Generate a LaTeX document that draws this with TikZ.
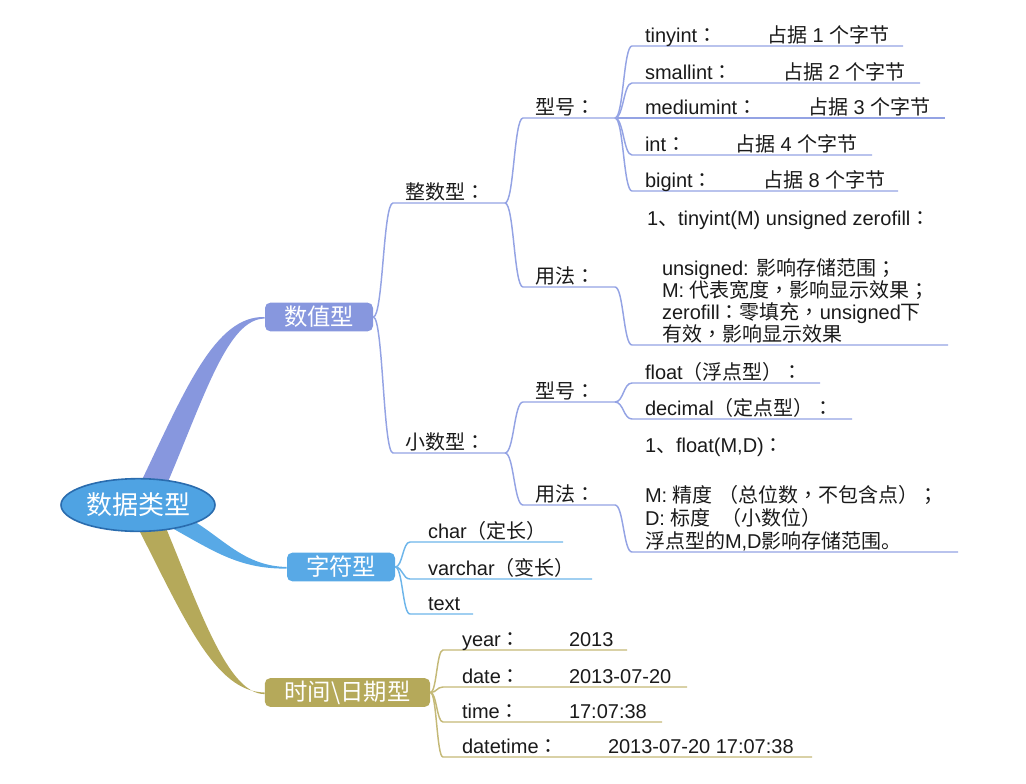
\documentclass[tikz,border=0pt]{standalone}
\usepackage{fontspec}
\setmainfont{Liberation Sans}
\newfontfamily\cjk{Noto Sans CJK SC}
\newfontfamily\cjkjp{Noto Sans CJK JP}
\newfontfamily\cjktc{Noto Sans CJK TC}
\usetikzlibrary{calc,backgrounds,shapes.geometric}
\newcommand\zh[1]{{\cjk #1}}
\newcommand\jp[1]{{\cjkjp #1}}
\newcommand\cm{{\cjktc ，}}
\newcommand\mmconn[4]{\draw[#1] let \p1=(#2),\p2=(#3) in (\p1) .. controls ({(\x1+\x2)/2},\y1) and ({(\x1+\x2)/2},\y2) .. (\p2) -- (#4);}
\definecolor{numc}{HTML}{8797DE}
\definecolor{numl}{HTML}{94A3E4}
\definecolor{chrc}{HTML}{58A9E6}
\definecolor{chrl}{HTML}{6DB5EA}
\definecolor{timc}{HTML}{B5A95A}
\definecolor{timl}{HTML}{C4B977}
\definecolor{rootc}{HTML}{4FA3E3}
\definecolor{rootb}{HTML}{2A6CAE}
\definecolor{txt}{HTML}{1A1A1A}
\begin{document}
\begin{tikzpicture}[x=0.75pt,y=-0.75pt,
 lbl/.style={anchor=base west,inner sep=0pt,outer sep=0pt,text=txt,font=\fontsize{15}{18}\selectfont},
 topbox/.style={rectangle,rounded corners=4pt,text=white,inner sep=0pt,minimum height=21.5pt,font=\fontsize{17.5}{20}\selectfont\cjk},
 nl/.style={draw=numl,line width=1.1pt},
 cl/.style={draw=chrl,line width=1.1pt},
 tl/.style={draw=timl,line width=1.1pt}]
\useasboundingbox (0,0) rectangle (1026,783);

% main nodes
\node[ellipse,fill=rootc,draw=rootb,line width=1.2pt,minimum width=115.5pt,minimum height=39.5pt,inner sep=0pt,text=white,font=\fontsize{19.5}{22}\selectfont\cjk] (root) at (138,505) {数据类型};
\node[topbox,fill=numc,minimum width=81pt] (num) at (319,317) {数值型};
\node[topbox,fill=chrc,minimum width=81pt] (chr) at (341,567) {字符型};
\node[topbox,fill=timc,minimum width=124pt] (tim) at (347.5,692.5) {时间\textbackslash 日期型};

% tapered main branches
\begin{scope}[on background layer]
\coordinate (b1a) at (140,484); \coordinate (b1b) at (167,484);
\fill[numc] (b1a) .. controls (185,390) and (215,315.5) .. (num.west) -- ([yshift=-1.2pt]num.west) .. controls (228,318.5) and (205,395) .. (b1b) -- cycle;
\coordinate (b2a) at (192,520); \coordinate (b2b) at (172,528);
\fill[chrc] (b2a) .. controls (225,540) and (245,566) .. (chr.west) -- ([yshift=-1.2pt]chr.west) .. controls (240,569) and (215,552) .. (b2b) -- cycle;
\coordinate (b3a) at (138,528); \coordinate (b3b) at (166,528);
\fill[timc] (b3a) .. controls (185,620) and (215,691.5) .. (tim.west) -- ([yshift=-1.2pt]tim.west) .. controls (228,694) and (200,610) .. (b3b) -- cycle;
\end{scope}

% ---------- numeric subtree ----------
\coordinate (zs) at (393,203); \coordinate (ze) at (505,203);
\coordinate (xs) at (393,453); \coordinate (xe) at (505,453);
\mmconn{nl}{num.east}{zs}{ze}
\mmconn{nl}{num.east}{xs}{xe}
\node[lbl] (zl) at (405,199) {\zh{整数型}\jp{：}};
\node[lbl] (xl) at (405,449) {\zh{小数型}\jp{：}};

\coordinate (zxs) at (523,118); \coordinate (zxe) at (615,118);
\coordinate (zys) at (523,287); \coordinate (zye) at (615,287);
\mmconn{nl}{ze}{zxs}{zxe}
\mmconn{nl}{ze}{zys}{zye}
\node[lbl] (zxl) at (535,114) {\zh{型号}\jp{：}};
\node[lbl] (zyl) at (535,283) {\zh{用法}\jp{：}};

\coordinate (l1s) at (632,46);  \coordinate (l1e) at (903,46);
\coordinate (l2s) at (632,83);  \coordinate (l2e) at (920,83);
\coordinate (l3s) at (632,118); \coordinate (l3e) at (945,118);
\coordinate (l4s) at (632,155); \coordinate (l4e) at (872,155);
\coordinate (l5s) at (632,191); \coordinate (l5e) at (898,191);
\mmconn{nl}{zxe}{l1s}{l1e}
\mmconn{nl}{zxe}{l2s}{l2e}
\mmconn{nl}{zxe}{l3s}{l3e}
\mmconn{nl}{zxe}{l4s}{l4e}
\mmconn{nl}{zxe}{l5s}{l5e}
\node[lbl] (l1a) at (645,42) {tinyint\jp{：}};
\node[lbl] (l1b) at (767,42) {\zh{占据} 1 \zh{个字节}};
\node[lbl] (l2a) at (645,79) {smallint\jp{：}};
\node[lbl] (l2b) at (783,79) {\zh{占据} 2 \zh{个字节}};
\node[lbl] (l3a) at (645,114) {mediumint\jp{：}};
\node[lbl] (l3b) at (808,114) {\zh{占据} 3 \zh{个字节}};
\node[lbl] (l4a) at (645,151) {int\jp{：}};
\node[lbl] (l4b) at (735,151) {\zh{占据} 4 \zh{个字节}};
\node[lbl] (l5a) at (645,187) {bigint\jp{：}};
\node[lbl] (l5b) at (763,187) {\zh{占据} 8 \zh{个字节}};

\coordinate (u0s) at (632,345); \coordinate (u0e) at (948,345);
\mmconn{nl}{zye}{u0s}{u0e}
\node[lbl] (u1) at (647,225) {1\jp{、}tinyint(M) unsigned zerofill\jp{：}};
\node[lbl] (u2) at (662,275) {unsigned: \zh{影响存储范围}\jp{；}};
\node[lbl] (u3) at (662,297) {M: \zh{代表宽度}\cm\zh{影响显示效果}\jp{；}};
\node[lbl] (u4) at (662,319) {zerofill\jp{：}\zh{零填充}\cm unsigned\zh{下}};
\node[lbl] (u5) at (662,341) {\zh{有效}\cm\zh{影响显示效果}};

\coordinate (xxs) at (523,402); \coordinate (xxe) at (615,402);
\coordinate (xys) at (523,505); \coordinate (xye) at (615,505);
\mmconn{nl}{xe}{xxs}{xxe}
\mmconn{nl}{xe}{xys}{xye}
\node[lbl] (xxl) at (535,398) {\zh{型号}\jp{：}};
\node[lbl] (xyl) at (535,501) {\zh{用法}\jp{：}};

\coordinate (f1s) at (632,383); \coordinate (f1e) at (820,383);
\coordinate (f2s) at (632,419); \coordinate (f2e) at (852,419);
\mmconn{nl}{xxe}{f1s}{f1e}
\mmconn{nl}{xxe}{f2s}{f2e}
\node[lbl] (f1) at (645,379) {float\jp{（}\zh{浮点型}\jp{）：}};
\node[lbl] (f2) at (645,415) {decimal\jp{（}\zh{定点型}\jp{）：}};

\coordinate (g0s) at (632,552); \coordinate (g0e) at (958,552);
\mmconn{nl}{xye}{g0s}{g0e}
\node[lbl] (g1) at (645,452) {1\jp{、}float(M,D)\jp{：}};
\node[lbl] (g2) at (645,502) {M: \zh{精度} \jp{（}\zh{总位数}\cm\zh{不包含点}\jp{）；}};
\node[lbl] (g3) at (645,525) {D: \zh{标度} \ \jp{（}\zh{小数位}\jp{）}};
\node[lbl] (g4) at (645,548) {\zh{浮点型的}M,D\zh{影响存储范围}\jp{。}};

% ---------- char subtree ----------
\coordinate (c1s) at (410,542); \coordinate (c1e) at (563,542);
\coordinate (c2s) at (410,579); \coordinate (c2e) at (592,579);
\coordinate (c3s) at (410,614); \coordinate (c3e) at (473,614);
\mmconn{cl}{chr.east}{c1s}{c1e}
\mmconn{cl}{chr.east}{c2s}{c2e}
\mmconn{cl}{chr.east}{c3s}{c3e}
\node[lbl] (c1) at (428,538) {char\jp{（}\zh{定长}\jp{）}};
\node[lbl] (c2) at (428,575) {varchar\jp{（}\zh{变长}\jp{）}};
\node[lbl] (c3) at (428,610) {text};

% ---------- time subtree ----------
\coordinate (t1s) at (443,650); \coordinate (t1e) at (627,650);
\coordinate (t2s) at (443,687); \coordinate (t2e) at (687,687);
\coordinate (t3s) at (443,722); \coordinate (t3e) at (662,722);
\coordinate (t4s) at (443,757); \coordinate (t4e) at (812,757);
\mmconn{tl}{tim.east}{t1s}{t1e}
\mmconn{tl}{tim.east}{t2s}{t2e}
\mmconn{tl}{tim.east}{t3s}{t3e}
\mmconn{tl}{tim.east}{t4s}{t4e}
\node[lbl] (t1a) at (462,646) {year\jp{：}};
\node[lbl] (t1b) at (569,646) {2013};
\node[lbl] (t2a) at (462,683) {date\jp{：}};
\node[lbl] (t2b) at (569,683) {2013-07-20};
\node[lbl] (t3a) at (462,718) {time\jp{：}};
\node[lbl] (t3b) at (569,718) {17:07:38};
\node[lbl] (t4a) at (462,753) {datetime\jp{：}};
\node[lbl] (t4b) at (608,753) {2013-07-20 17:07:38};
\end{tikzpicture}
\end{document}
